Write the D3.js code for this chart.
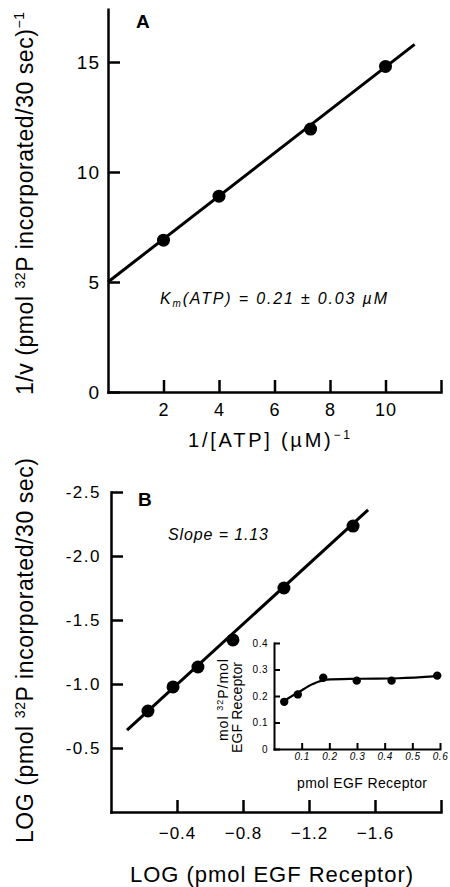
<!DOCTYPE html>
<html>
<head>
<meta charset="utf-8">
<script src="https://cdn.jsdelivr.net/npm/d3@7"></script>
<style>
  body { margin: 0; background: #fff; }
  svg text { font-family: "Liberation Sans", Arial, Helvetica, sans-serif; fill: #000; }
</style>
</head>
<body>
<div id="chart"></div>
<script>
// panel A: 1/v vs 1/[ATP]
var atpInv = [2, 4, 7.3, 10];
var rateInv = [6.9, 8.9, 11.95, 14.8];
var fitAX = [0, 11.05];
var fitAY = [5.0, 15.8];
var ticksAX = [2, 4, 6, 8, 10, 12];
var ticksAY = [0, 5, 10, 15];

// panel B: log-log plot
var logReceptor = [-0.224, -0.376, -0.527, -0.739, -1.048, -1.467];
var logPhos = [-0.789, -0.977, -1.133, -1.344, -1.75, -2.234];
var fitBX = [-0.097, -1.558];
var fitBY = [-0.64, -2.36];
var ticksBX = [-0.4, -0.8, -1.2, -1.6, -2.0];
var ticksBY = [-0.5, -1.0, -1.5, -2.0, -2.5];

// inset: mol 32P / mol receptor
var insetX = [0.037, 0.086, 0.178, 0.299, 0.425, 0.59];
var insetY = [0.178, 0.206, 0.269, 0.258, 0.258, 0.277];
var curveX = [0.037, 0.09, 0.14, 0.19, 0.3, 0.45, 0.59];
var curveY = [0.182, 0.215, 0.245, 0.262, 0.265, 0.267, 0.275];
var ticksIX = [0.1, 0.2, 0.3, 0.4, 0.5, 0.6];
var ticksIY = [0, 0.1, 0.2, 0.3, 0.4];

var W = 450, H = 887;
var svg = d3.select("#chart").append("svg")
  .attr("width", W).attr("height", H);

function styleAxis(g, fs, ls, width) {
  g.select(".domain").attr("stroke", "#000").attr("stroke-width", width).attr("stroke-linecap", "square");
  g.selectAll(".tick line").attr("stroke", "#000").attr("stroke-width", width);
  g.selectAll(".tick text").attr("font-size", fs).attr("letter-spacing", ls);
}

function zip(a, b) { return a.map(function (d, i) { return [d, b[i]]; }); }

// ---------- panel A ----------
var xA = d3.scaleLinear().domain([0, 12]).range([108, 441]);
var yA = d3.scaleLinear().domain([0, 17.4]).range([392, 9.2]);

var gAx = svg.append("g").attr("transform", "translate(0," + yA(0) + ")")
  .call(d3.axisBottom(xA).tickValues(ticksAX).tickSize(-12).tickSizeOuter(0).tickPadding(11)
    .tickFormat(function (d) { return d === 12 ? "" : d; }));
styleAxis(gAx, 18, 1, 2.5);

var gAy = svg.append("g").attr("transform", "translate(" + xA(0) + ",0)")
  .call(d3.axisLeft(yA).tickValues(ticksAY).tickSize(-12).tickSizeOuter(0).tickPadding(8));
styleAxis(gAy, 19, 1, 2.5);

svg.append("path")
  .attr("d", d3.line().x(function (d) { return xA(d[0]); }).y(function (d) { return yA(d[1]); })(zip(fitAX, fitAY)))
  .attr("stroke", "#000").attr("stroke-width", 3).attr("fill", "none");

svg.selectAll(".ptA").data(zip(atpInv, rateInv)).enter().append("circle")
  .attr("cx", function (d) { return xA(d[0]); })
  .attr("cy", function (d) { return yA(d[1]); })
  .attr("r", 6.5).attr("fill", "#000");

svg.append("text").attr("x", 136).attr("y", 28).attr("font-size", 19).attr("font-weight", "bold").text("A");

var km = svg.append("text").attr("x", 160).attr("y", 304).attr("font-size", 16)
  .attr("font-style", "italic").attr("textLength", 227).attr("lengthAdjust", "spacing");
km.append("tspan").text("K");
km.append("tspan").attr("font-size", 10).attr("dy", 3).text("m");
km.append("tspan").attr("dy", -3).text("(ATP) = 0.21 \u00b1 0.03 \u00b5M");

var labAx = svg.append("text").attr("x", 188).attr("y", 447).attr("font-size", 20)
  .attr("textLength", 162).attr("lengthAdjust", "spacing");
labAx.append("tspan").text("1/[ATP] (\u00b5M)");
labAx.append("tspan").attr("font-size", 12).attr("dy", -8).text("\u22121");

var labAy = svg.append("text").attr("transform", "translate(33,395) rotate(-90)")
  .attr("font-size", 23).attr("textLength", 383).attr("lengthAdjust", "spacing");
labAy.append("tspan").text("1/v (pmol ");
labAy.append("tspan").attr("font-size", 14).attr("dy", -8).text("32");
labAy.append("tspan").attr("dy", 8).text("P incorporated/30 sec)");
labAy.append("tspan").attr("font-size", 14).attr("dy", -9).text("\u22121");

// ---------- panel B ----------
var xB = d3.scaleLinear().domain([0, -2.0]).range([111, 441]);
var yB = d3.scaleLinear().domain([0, -2.5]).range([812, 492]);

var gBx = svg.append("g").attr("transform", "translate(0," + yB(0) + ")")
  .call(d3.axisBottom(xB).tickValues(ticksBX).tickSize(-12).tickSizeOuter(0).tickPadding(15)
    .tickFormat(function (d) { return d === -2.0 ? "" : "\u2212" + Math.abs(d).toFixed(1); }));
styleAxis(gBx, 17, 1, 2.5);

var gBy = svg.append("g").attr("transform", "translate(" + xB(0) + ",0)")
  .call(d3.axisLeft(yB).tickValues(ticksBY).tickSize(-12).tickSizeOuter(0).tickPadding(10)
    .tickFormat(function (d) { return "-" + Math.abs(d).toFixed(1); }));
styleAxis(gBy, 17, 1.5, 2.5);

svg.append("path")
  .attr("d", d3.line().x(function (d) { return xB(d[0]); }).y(function (d) { return yB(d[1]); })(zip(fitBX, fitBY)))
  .attr("stroke", "#000").attr("stroke-width", 3).attr("fill", "none");

svg.selectAll(".ptB").data(zip(logReceptor, logPhos)).enter().append("circle")
  .attr("cx", function (d) { return xB(d[0]); })
  .attr("cy", function (d) { return yB(d[1]); })
  .attr("r", 6.5).attr("fill", "#000");

svg.append("text").attr("x", 138).attr("y", 506).attr("font-size", 19).attr("font-weight", "bold").text("B");

svg.append("text").attr("x", 168).attr("y", 540).attr("font-size", 16).attr("font-style", "italic")
  .attr("textLength", 100).attr("lengthAdjust", "spacing").text("Slope = 1.13");

svg.append("text").attr("x", 130).attr("y", 882).attr("font-size", 22)
  .attr("textLength", 283).attr("lengthAdjust", "spacing").text("LOG (pmol  EGF Receptor)");

var labBy = svg.append("text").attr("transform", "translate(33,843) rotate(-90)")
  .attr("font-size", 23).attr("textLength", 385).attr("lengthAdjust", "spacing");
labBy.append("tspan").text("LOG (pmol ");
labBy.append("tspan").attr("font-size", 14).attr("dy", -8).text("32");
labBy.append("tspan").attr("dy", 8).text("P incorporated/30 sec)");

// ---------- inset ----------
var xI = d3.scaleLinear().domain([0, 0.6]).range([274, 440]);
var yI = d3.scaleLinear().domain([0, 0.4]).range([749, 643]);

var gIx = svg.append("g").attr("transform", "translate(0," + yI(0) + ")")
  .call(d3.axisBottom(xI).tickValues(ticksIX).tickSize(-6).tickSizeOuter(0).tickPadding(4)
    .tickFormat(d3.format(".1f")));
styleAxis(gIx, 10, 0.5, 2);
gIx.selectAll(".tick text").attr("font-style", "italic");

var gIy = svg.append("g").attr("transform", "translate(" + xI(0) + ",0)")
  .call(d3.axisLeft(yI).tickValues(ticksIY).tickSize(-6).tickSizeOuter(0).tickPadding(6)
    .tickFormat(function (d) { return d === 0 ? "0" : d.toFixed(1); }));
styleAxis(gIy, 10, 0.5, 2);

svg.append("path")
  .attr("d", d3.line().curve(d3.curveMonotoneX)
    .x(function (d) { return xI(d[0]); }).y(function (d) { return yI(d[1]); })(zip(curveX, curveY)))
  .attr("stroke", "#000").attr("stroke-width", 2.2).attr("fill", "none");

svg.selectAll(".ptI").data(zip(insetX, insetY)).enter().append("circle")
  .attr("cx", function (d) { return xI(d[0]); })
  .attr("cy", function (d) { return yI(d[1]); })
  .attr("r", 4.2).attr("fill", "#000");

var labIy1 = svg.append("text").attr("transform", "translate(228,741) rotate(-90)")
  .attr("font-size", 14).attr("textLength", 82).attr("lengthAdjust", "spacing");
labIy1.append("tspan").text("mol ");
labIy1.append("tspan").attr("font-size", 9).attr("dy", -5).text("32");
labIy1.append("tspan").attr("dy", 5).text("P/mol");

svg.append("text").attr("transform", "translate(242,753) rotate(-90)")
  .attr("font-size", 14).attr("textLength", 91).attr("lengthAdjust", "spacing").text("EGF Receptor");

svg.append("text").attr("x", 297).attr("y", 788).attr("font-size", 14)
  .attr("textLength", 130).attr("lengthAdjust", "spacing").text("pmol  EGF Receptor");
</script>
</body>
</html>
